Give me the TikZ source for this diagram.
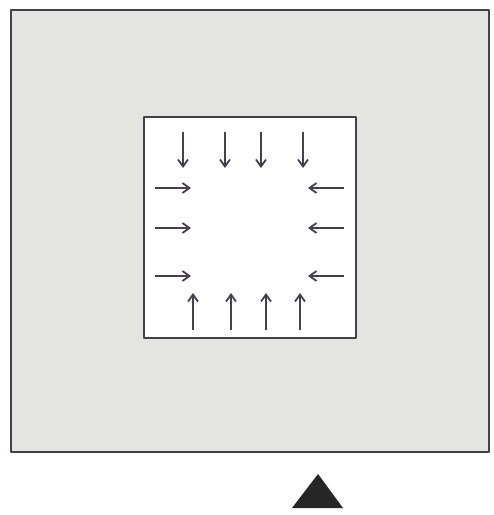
\documentclass[tikz,border=0pt]{standalone}
\usetikzlibrary{arrows.meta}
\definecolor{wallgray}{HTML}{E4E4E1}
\definecolor{inkgray}{HTML}{45414B}

\begin{document}
\begin{tikzpicture}[x=1pt,y=-1pt,line join=round,
  wall/.style={draw=inkgray,line width=2.2pt},
  push/.style={-{Straight Barb[length=7pt,width=10pt]},draw=inkgray,line width=1.8pt}]
\useasboundingbox (0,0) rectangle (494,515);
\fill[white] (0,0) rectangle (494,515);
% outer field and inner room
\path[wall,fill=wallgray] (11,10) rectangle (489,452);
\path[wall,fill=white] (144,117) rectangle (356,338);
% arrows pressing inwards
\foreach \x in {183,225,261,303} \draw[push] (\x,132) -- (\x,168);
\foreach \x in {193,231,266,300} \draw[push] (\x,330) -- (\x,293);
\foreach \y in {188,228,276} {
  \draw[push] (155,\y) -- (191,\y);
  \draw[push] (344,\y) -- (308,\y);
}
% viewpoint marker
\fill[black!85] (318,474) -- (343,508) -- (292,508) -- cycle;
\end{tikzpicture}
\end{document}
